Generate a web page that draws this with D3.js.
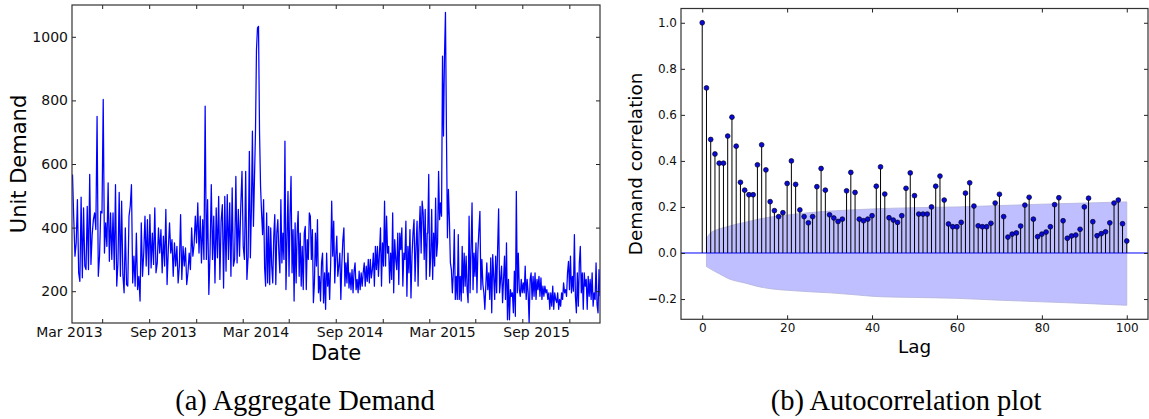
<!DOCTYPE html>
<html><head><meta charset="utf-8">
<script src="https://cdn.jsdelivr.net/npm/d3@7"></script>
<style>body{margin:0;background:#fff}svg{display:block}</style>
</head><body>
<svg id="c" width="1149" height="419"></svg>
<script>
// ---------- DATA: left panel (aggregate daily demand) ----------
const demand2013 = [567,430,310,352,488,258,231,496,242,462,279,268,467,268,567,284,378,425,446,394,750,247,310,451,446,803,320,415,341,541,294,446,300,446,268,535,216,289,511,247,483,252,195,399,221,216,436,467,535,226,310,216,383,205,247,169,415,247,320,436,279,425,252,441,273,383,284,462,258,289,399,320,394,258,373,279,457,221,331,415,320,362,247,352,279,341,226,279,441,237,341,279,336,221,258,320,268,399,310,347,436,352,478,320,436,289,425,300,782,300,488,190,320,535,300,436,226,462,305,498,237,420,472,210,498,263,504,300,478,247,525,279,300,561,289,457,310,467,577,341,300,577,237,310,640];
const demand2014 = [305,457,703,404,551,698,960,1028,1033,700,530,446,378,488,273,216,446,226,404,221,399,279,226,373,441,221,383,425,320,258,488,289,383,300,672,205,362,514,247,441,561,258,394,169,415,226,383,451,247,383,216,341,205,383,404,205,362,300,446,436,300,394,164,226,383,279,425,195,247,169,289,320,163,258,143,320,216,258,174,289,483,310,420,226,310,373,247,279,320,174,289,362,399,216,289,226,320,210,258,205,268,195,263,289,205,237,195,263,205,258,216,258,289,216,279,231,300,226,300,242,268,320,216,341,268,341,247,320,399,216,352,279,483,279,436,320,341,226,320,237,446,195,362,300,268,383,221,383,331,399,216,320,300,420,184,341,258,394,179,310,383,425,231,341,420,216,383,467,320,483,446,300,457,237,383];
const demand2015 = [383,567,247,310,457,237,383,279,493,310,352,577,425,478,436,939,688,939,1077,698,368,520,425,289,268,195,258,394,174,247,174,378,174,247,169,341,195,320,216,310,205,164,436,195,331,478,205,320,247,352,195,331,394,451,205,300,221,195,143,216,289,205,258,174,305,132,315,247,174,310,195,336,459,195,237,279,164,237,310,174,352,110,237,110,205,184,195,132,263,121,514,195,320,205,184,237,195,226,195,279,174,237,195,100,237,258,174,247,184,258,174,237,205,247,184,242,174,216,184,216,195,205,174,195,143,195,153,216,143,195,174,164,195,143,174,153,195,174,226,195,205,184,258,294,205,310,195,247,200,378,184,132,258,153,289,341,195,258,143,258,216,237,143,247,184,237,174,258,153,195,174,289,158,132,268,184];
const segmentStart = ["2013-01-02", "2013-12-16", "2014-11-28"];
const segmentEnd   = ["2013-12-14", "2014-11-27", "2015-10-31"];
const dateDomain = ["2013-01-01", "2015-10-31"];
const dateTicks = ["2013-03-01","2013-06-01","2013-09-01","2013-12-01","2014-03-01","2014-06-01","2014-09-01","2014-12-01","2015-03-01","2015-06-01","2015-09-01"];
const dateTickLabels = ["Mar 2013","","Sep 2013","","Mar 2014","","Sep 2014","","Mar 2015","","Sep 2015"];
const demandDomain = [100, 1100];
const demandTicks = [200, 400, 600, 800, 1000];

// ---------- DATA: right panel (autocorrelation, lags 0..100) ----------
const acf = [1.0,0.717,0.493,0.43,0.39,0.39,0.508,0.59,0.464,0.307,0.273,0.253,0.253,0.383,0.47,0.361,0.223,0.184,0.158,0.175,0.302,0.40,0.298,0.187,0.158,0.131,0.158,0.288,0.367,0.273,0.166,0.152,0.137,0.147,0.27,0.35,0.263,0.147,0.14,0.147,0.162,0.29,0.374,0.256,0.153,0.143,0.133,0.162,0.281,0.348,0.249,0.169,0.169,0.169,0.2,0.29,0.334,0.23,0.126,0.114,0.114,0.133,0.26,0.305,0.204,0.118,0.114,0.114,0.129,0.217,0.255,0.158,0.069,0.082,0.087,0.117,0.208,0.242,0.147,0.071,0.082,0.091,0.114,0.21,0.24,0.14,0.064,0.074,0.078,0.103,0.2,0.238,0.136,0.075,0.084,0.092,0.131,0.217,0.23,0.127,0.052];
const bandLags  = [1,2,3,4,5,6,8,10,13,16,20,25,30,35,42,50,60,70,80,90,100];
const bandUpper = [0.064,0.088,0.098,0.105,0.11,0.115,0.125,0.133,0.146,0.156,0.165,0.175,0.182,0.187,0.193,0.197,0.2,0.206,0.212,0.217,0.222];
const bandLower = [-0.059,-0.07,-0.08,-0.09,-0.1,-0.11,-0.122,-0.13,-0.145,-0.155,-0.162,-0.168,-0.173,-0.18,-0.19,-0.193,-0.197,-0.205,-0.212,-0.219,-0.227];
const lagDomain = [-5, 105];
const lagTicks = [0, 20, 40, 60, 80, 100];
const corrDomain = [-0.288, 1.062];
const corrTicks = [-0.2, 0.0, 0.2, 0.4, 0.6, 0.8, 1.0];

// ---------- DRAW ----------
const svg = d3.select("#c");
svg.append("rect").attr("width",1149).attr("height",419).attr("fill","#fff");
const SANS = "DejaVu Sans, sans-serif";
const parse = d3.utcParse("%Y-%m-%d");

function styleAxis(g, size){
  g.attr("font-family", SANS).attr("font-size", size).attr("color", "#222");
  g.select(".domain").remove();
  g.selectAll(".tick line").attr("stroke-width", 1);
  g.selectAll("text").attr("fill", "#111");
}

// Left panel
const L = {x0:72, x1:600, y0:5, y1:323};
const xT = d3.scaleUtc().domain(dateDomain.map(parse)).range([L.x0, L.x1]);
const yD = d3.scaleLinear().domain(demandDomain).range([L.y1, L.y0]);

const series = [];
[demand2013, demand2014, demand2015].forEach((vals, i) => {
  const t0 = parse(segmentStart[i]).getTime(), t1 = parse(segmentEnd[i]).getTime();
  vals.forEach((v, k) => series.push({t: new Date(t0 + (t1 - t0) * k / (vals.length - 1)), v}));
});

svg.append("clipPath").attr("id","clipL").append("rect")
  .attr("x",L.x0).attr("y",L.y0).attr("width",L.x1-L.x0).attr("height",L.y1-L.y0);
svg.append("path").datum(series)
  .attr("clip-path","url(#clipL)")
  .attr("fill","none").attr("stroke","#0000ff").attr("stroke-width",1.25).attr("stroke-linejoin","round")
  .attr("d", d3.line().x(d => xT(d.t)).y(d => yD(d.v)));

const tickDates = dateTicks.map(parse);
let g = svg.append("g").attr("transform",`translate(0,${L.y1})`)
  .call(d3.axisBottom(xT).tickValues(tickDates).tickSize(-4).tickFormat((d,i)=>dateTickLabels[i]));
styleAxis(g, 14);
g.selectAll("text").attr("text-anchor","end").attr("y",14).attr("dy",0).attr("x",0);
g = svg.append("g").attr("transform",`translate(0,${L.y0})`)
  .call(d3.axisTop(xT).tickValues(tickDates).tickSize(-4).tickFormat(""));
styleAxis(g, 14);
g = svg.append("g").attr("transform",`translate(${L.x0},0)`)
  .call(d3.axisLeft(yD).tickValues(demandTicks).tickSize(-4).tickPadding(4).tickFormat(d3.format("d")));
styleAxis(g, 14);
g = svg.append("g").attr("transform",`translate(${L.x1},0)`)
  .call(d3.axisRight(yD).tickValues(demandTicks).tickSize(-4).tickFormat(""));
styleAxis(g, 14);
svg.append("rect").attr("x",L.x0).attr("y",L.y0).attr("width",L.x1-L.x0).attr("height",L.y1-L.y0)
  .attr("fill","none").attr("stroke","#333").attr("stroke-width",1.2);

svg.append("text").attr("transform",`translate(26,${(L.y0+L.y1)/2}) rotate(-90)`)
  .attr("text-anchor","middle").attr("font-family",SANS).attr("font-size",21).text("Unit Demand");
svg.append("text").attr("x",(L.x0+L.x1)/2).attr("y",360)
  .attr("text-anchor","middle").attr("font-family",SANS).attr("font-size",21).text("Date");

// Right panel
const R = {x0:681, x1:1148, y0:8.5, y1:319.3};
const xL = d3.scaleLinear().domain(lagDomain).range([R.x0, R.x1]);
const yC = d3.scaleLinear().domain(corrDomain).range([R.y1, R.y0]);

const band = bandLags.map((l,i) => ({lag:l, hi:bandUpper[i], lo:bandLower[i]}));
svg.append("path").datum(band)
  .attr("fill","#bfbfff").attr("stroke","#b4b4dc").attr("stroke-width",0.8)
  .attr("d", d3.area().x(d=>xL(d.lag)).y0(d=>yC(d.lo)).y1(d=>yC(d.hi)).curve(d3.curveMonotoneX));

svg.append("line").attr("x1",R.x0).attr("x2",R.x1).attr("y1",yC(0)).attr("y2",yC(0))
  .attr("stroke","#0000ff").attr("stroke-width",1);

const acfData = acf.map((v,i)=>({lag:i, v}));
svg.append("g").selectAll("line").data(acfData).join("line")
  .attr("x1",d=>xL(d.lag)).attr("x2",d=>xL(d.lag))
  .attr("y1",yC(0)).attr("y2",d=>yC(d.v))
  .attr("stroke","#000").attr("stroke-width",1);
svg.append("g").selectAll("circle").data(acfData).join("circle")
  .attr("cx",d=>xL(d.lag)).attr("cy",d=>yC(d.v)).attr("r",2.4)
  .attr("fill","#0a0ad8").attr("stroke","#000020").attr("stroke-width",0.7);

g = svg.append("g").attr("transform",`translate(0,${R.y1})`)
  .call(d3.axisBottom(xL).tickValues(lagTicks).tickSize(-4).tickFormat(d3.format("d")));
styleAxis(g, 12);
g.selectAll("text").attr("y",13).attr("dy",0);
g = svg.append("g").attr("transform",`translate(0,${R.y0})`)
  .call(d3.axisTop(xL).tickValues(lagTicks).tickSize(-4).tickFormat(""));
styleAxis(g, 12);
g = svg.append("g").attr("transform",`translate(${R.x0},0)`)
  .call(d3.axisLeft(yC).tickValues(corrTicks).tickSize(-4).tickPadding(4).tickFormat(d=>d3.format(".1f")(Math.abs(d))));
styleAxis(g, 12);
g.selectAll("text").filter(d=>d<0).each(function(d){
  const t = d3.select(this);
  const s = t.text();
  t.text("");
  t.append("tspan").attr("font-weight","bold").text("\u2212");
  t.append("tspan").text(s);
});
g = svg.append("g").attr("transform",`translate(${R.x1},0)`)
  .call(d3.axisRight(yC).tickValues(corrTicks).tickSize(-4).tickFormat(""));
styleAxis(g, 12);
svg.append("rect").attr("x",R.x0).attr("y",R.y0).attr("width",R.x1-R.x0).attr("height",R.y1-R.y0)
  .attr("fill","none").attr("stroke","#333").attr("stroke-width",1.2);

svg.append("text").attr("transform",`translate(642,${(R.y0+R.y1)/2}) rotate(-90)`)
  .attr("text-anchor","middle").attr("font-family",SANS).attr("font-size",18.4).text("Demand correlation");
svg.append("text").attr("x",(R.x0+R.x1)/2).attr("y",353)
  .attr("text-anchor","middle").attr("font-family",SANS).attr("font-size",18.4).text("Lag");

// Captions
const SERIF = "Liberation Serif, Times New Roman, serif";
svg.append("text").attr("x",305).attr("y",410).attr("text-anchor","middle")
  .attr("font-family",SERIF).attr("font-size",28.5).text("(a) Aggregate Demand");
svg.append("text").attr("x",906).attr("y",410).attr("text-anchor","middle")
  .attr("font-family",SERIF).attr("font-size",28.5).text("(b) Autocorrelation plot");
</script>
</body></html>
